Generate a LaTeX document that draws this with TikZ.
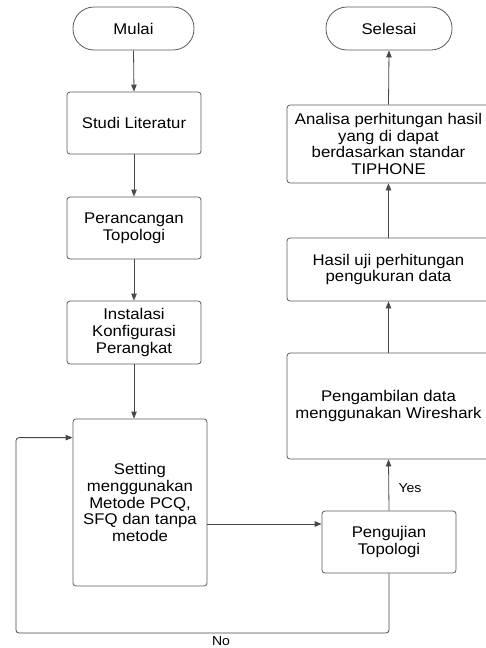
\documentclass[tikz,border=0pt]{standalone}
\usepackage{fontspec}
\setmainfont{Liberation Sans}[FakeStretch=1.08]
\usetikzlibrary{arrows.meta}
\definecolor{edge}{HTML}{5A5A5A}
\tikzset{
  box/.style={draw=edge, line width=0.8pt, rounded corners=3pt, align=center,
    inner sep=2pt, font=\fontsize{15.5}{16.6}\selectfont},
  term/.style={box, rounded corners=21pt},
  arr/.style={draw=edge!80!black, line width=0.8pt, -{Triangle[length=7pt,width=5.5pt]}},
  lbl/.style={font=\fontsize{13}{15}\selectfont}
}
\begin{document}
\begin{tikzpicture}[x=1pt,y=-1pt]
\useasboundingbox (0,0) rectangle (486,648);
\node[term, minimum width=121pt, minimum height=43pt] (mulai) at (133.5,28.5) {Mulai};
\node[box, minimum width=134pt, minimum height=62pt] (studi) at (134,123) {Studi Literatur};
\node[box, minimum width=134pt, minimum height=62pt] (peranc) at (134,228) {Perancangan\\Topologi};
\node[box, minimum width=134pt, minimum height=63pt] (instal) at (134,332.5) {Instalasi\\Konfigurasi\\Perangkat};
\node[box, minimum width=134pt, minimum height=167pt] (setting) at (140,502.5) {Setting\\menggunakan\\Metode PCQ,\\SFQ dan tanpa\\metode};
\node[box, minimum width=134pt, minimum height=62pt] (uji) at (389,542) {Pengujian\\Topologi};
\node[box, minimum width=203pt, minimum height=106pt] (ambil) at (388.5,406) {Pengambilan data\\menggunakan Wireshark};
\node[box, minimum width=203pt, minimum height=63pt] (hasil) at (388.5,269.5) {Hasil uji perhitungan\\pengukuran data};
\node[box, minimum width=203pt, minimum height=78pt] (analisa) at (388.5,144) {Analisa perhitungan hasil\\yang di dapat\\berdasarkan standar\\TIPHONE};
\node[term, minimum width=126pt, minimum height=43pt] (selesai) at (389,28.5) {Selesai};

\draw[arr] (mulai.south) -- (studi.north);
\draw[arr] (studi.south) -- (peranc.north);
\draw[arr] (peranc.south) -- (instal.north);
\draw[arr] (instal.south) -- (instal.south |- setting.north);
\coordinate (sin) at ([yshift=18pt]uji.west);
\draw[arr] (setting.east |- sin) -- (sin);
\draw[arr] (uji.north) -- node[lbl, right=6pt, pos=0.43] (yes) {Yes} (ambil.south);
\draw[arr] (ambil.north) -- (hasil.south);
\draw[arr] (hasil.north) -- (analisa.south);
\draw[arr] (analisa.north) -- (selesai.south);
\coordinate (lb) at (16,633);
\coordinate (sw) at ([yshift=-19pt]setting.north west);
\draw[arr, rounded corners=3pt] (uji.south) |- (lb) |- (sw);
\node[lbl] (no) at (221,641.5) {No};
\end{tikzpicture}
\end{document}
